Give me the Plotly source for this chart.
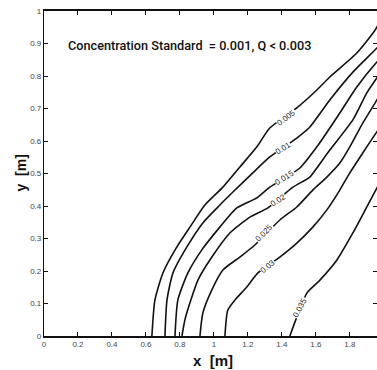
import plotly.graph_objects as go

levels = ["0.005", "0.01", "0.015", "0.02", "0.025", "0.03", "0.035"]

x_005 = [0.635, 0.653, 0.700, 0.782, 0.859, 0.947, 1.053, 1.153, 1.253, 1.329, 1.488, 1.606, 1.682, 1.841, 1.947, 2.0]
y_005 = [0.0, 0.111, 0.194, 0.274, 0.335, 0.403, 0.458, 0.520, 0.582, 0.640, 0.702, 0.757, 0.797, 0.871, 0.940, 0.99]

x_010 = [0.712, 0.724, 0.759, 0.841, 0.935, 1.035, 1.112, 1.229, 1.329, 1.488, 1.565, 1.682, 1.818, 1.959, 2.0]
y_010 = [0.0, 0.111, 0.194, 0.274, 0.348, 0.403, 0.443, 0.502, 0.551, 0.609, 0.643, 0.726, 0.812, 0.886, 0.911]

x_015 = [0.771, 0.788, 0.847, 0.929, 1.035, 1.135, 1.253, 1.329, 1.506, 1.606, 1.741, 1.841, 1.959, 2.0]
y_015 = [0.0, 0.111, 0.194, 0.265, 0.335, 0.394, 0.425, 0.458, 0.517, 0.582, 0.686, 0.766, 0.843, 0.865]

x_020 = [0.812, 0.829, 0.859, 0.906, 0.988, 1.094, 1.212, 1.318, 1.465, 1.565, 1.606, 1.682, 1.818, 1.900, 1.959, 2.0]
y_020 = [0.0, 0.049, 0.102, 0.172, 0.243, 0.317, 0.366, 0.394, 0.458, 0.489, 0.517, 0.572, 0.665, 0.748, 0.794, 0.825]

x_025 = [0.918, 0.935, 0.988, 1.053, 1.153, 1.241, 1.388, 1.488, 1.582, 1.665, 1.741, 1.800, 1.876, 1.959, 2.0]
y_025 = [0.0, 0.071, 0.142, 0.203, 0.243, 0.280, 0.357, 0.397, 0.449, 0.489, 0.532, 0.582, 0.655, 0.726, 0.763]

x_030 = [1.065, 1.082, 1.124, 1.194, 1.259, 1.388, 1.488, 1.582, 1.665, 1.741, 1.800, 1.876, 1.959, 2.0]
y_030 = [0.0, 0.080, 0.111, 0.151, 0.194, 0.243, 0.286, 0.335, 0.388, 0.449, 0.502, 0.563, 0.628, 0.658]

x_035 = [1.447, 1.488, 1.547, 1.624, 1.724, 1.818, 1.900, 1.959, 2.0]
y_035 = [0.0, 0.058, 0.132, 0.172, 0.234, 0.317, 0.397, 0.455, 0.492]

label_x = [1.429, 1.406, 1.418, 1.376, 1.300, 1.318, 1.506]
label_y = [0.672, 0.578, 0.489, 0.418, 0.317, 0.213, 0.089]
label_angle = [-37, -33, -33, -33, -45, -40, -62]

x_ticks = [0, 0.2, 0.4, 0.6, 0.8, 1, 1.2, 1.4, 1.6, 1.8, 2]
x_tick_text = ["0", "0.2", "0.4", "0.6", "0.8", "1", "1.2", "1.4", "1.6", "1.8", "2"]
y_ticks = [0, 0.1, 0.2, 0.3, 0.4, 0.5, 0.6, 0.7, 0.8, 0.9, 1]
y_tick_text = ["0", "0.1", "0.2", "0.3", "0.4", "0.5", "0.6", "0.7", "0.8", "0.9", "1"]

title_text = "Concentration Standard  = 0.001, Q < 0.003"
x_title = "x  [m]"
y_title = "y  [m]"

series = [(x_005, y_005), (x_010, y_010), (x_015, y_015), (x_020, y_020),
          (x_025, y_025), (x_030, y_030), (x_035, y_035)]

fig = go.Figure()
for (xs, ys), lv in zip(series, levels):
    fig.add_trace(go.Scatter(x=xs, y=ys, mode="lines", name=lv,
                             line=dict(color="#111111", width=1.6, shape="spline", smoothing=0.6),
                             hoverinfo="skip", showlegend=False, cliponaxis=True))

for lx, ly, la, lv in zip(label_x, label_y, label_angle, levels):
    fig.add_annotation(x=lx, y=ly, text=lv, showarrow=False, textangle=la,
                       font=dict(family="Liberation Sans", size=8, color="#222222"),
                       bgcolor="white", borderpad=0)

fig.add_annotation(xref="paper", yref="paper", x=0.066, y=0.895, xanchor="left", yanchor="middle",
                   text=title_text, showarrow=False,
                   font=dict(family="Roboto", size=12.7, color="#111111", weight=500))

fig.add_annotation(xref="paper", yref="paper", x=0.508, y=-0.074, xanchor="center", yanchor="middle",
                   text=x_title, showarrow=False,
                   font=dict(family="Liberation Sans", size=15, color="#111111", weight="bold"))
fig.add_annotation(xref="paper", yref="paper", x=-0.072, y=0.50, xanchor="center", yanchor="middle",
                   text=y_title, showarrow=False, textangle=-90,
                   font=dict(family="Liberation Sans", size=14, color="#111111", weight="bold"))

axis_common = dict(showline=True, linecolor="#111111", mirror="ticks", ticks="inside",
                   ticklen=4, tickcolor="#111111", showgrid=False, zeroline=False,
                   tickfont=dict(family="Liberation Sans", size=8, color="#444444"))

fig.update_xaxes(range=[0, 1.96], tickvals=x_ticks, ticktext=x_tick_text, linewidth=1.6,
                 **axis_common)
fig.update_yaxes(range=[0, 1], tickvals=y_ticks, ticktext=y_tick_text, linewidth=1.2,
                 **axis_common)

fig.update_layout(width=377, height=370, margin=dict(l=44, r=0, t=11, b=34),
                  plot_bgcolor="white", paper_bgcolor="white")

fig.write_html("out.html", config={"displayModeBar": False},
               post_script="document.body.style.margin='0';document.body.style.overflow='hidden';")
